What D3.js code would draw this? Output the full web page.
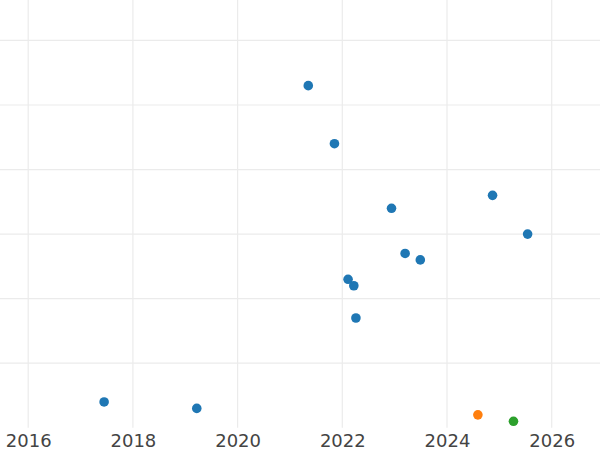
<!DOCTYPE html>
<html>
<head>
<meta charset="utf-8">
<script src="https://cdn.jsdelivr.net/npm/d3@7"></script>
<style>
html,body{margin:0;padding:0;background:#fff;}
svg{display:block;}
</style>
</head>
<body>
<svg id="chart" width="600" height="450"></svg>
<script>
// Data
const blueYears  = [2021.35, 2021.85, 2022.94, 2024.87, 2025.54, 2023.20, 2023.49, 2022.11, 2022.22, 2022.26, 2017.45, 2019.22];
const blueValues = [5.3, 4.4, 3.4, 3.6, 3.0, 2.7, 2.6, 2.3, 2.2, 1.7, 0.4, 0.3];
const orangeYears  = [2024.59];
const orangeValues = [0.2];
const greenYears  = [2025.27];
const greenValues = [0.1];
const xTicks = [2016, 2018, 2020, 2022, 2024, 2026];
const xGridYears = [2016, 2017, 2018, 2019, 2020, 2021, 2022, 2023, 2024, 2025, 2026];
const yGridValues = [1, 2, 3, 4, 5, 6];

const seriesList = [
  {years: blueYears, values: blueValues, color: "#1f77b4"},
  {years: orangeYears, values: orangeValues, color: "#ff7f0e"},
  {years: greenYears, values: greenValues, color: "#2ca02c"}
];

const W = 600, H = 450;
const plotBottom = 427.75;
const x = d3.scaleLinear().domain([2016, 2026]).range([28.2, 28.2 + 10 * 52.35]);
const y = d3.scaleLinear().domain([0, 1]).range([plotBottom, plotBottom - 64.55]);

const svg = d3.select("#chart");

// grid
const grid = svg.append("g").attr("stroke", "#ebebeb").attr("stroke-width", 1.2).attr("fill", "none");
grid.selectAll("line.h").data(yGridValues).enter().append("line")
  .attr("x1", 0).attr("x2", W)
  .attr("y1", d => y(d)).attr("y2", d => y(d));
grid.selectAll("line.v").data(xGridYears.filter(d => d % 2 === 0)).enter().append("line")
  .attr("x1", d => x(d)).attr("x2", d => x(d))
  .attr("y1", 0).attr("y2", plotBottom);

// x axis labels
const axis = d3.axisBottom(x).tickValues(xTicks).tickFormat(d3.format("d")).tickSize(0).tickPadding(0);
const ax = svg.append("g").attr("transform", `translate(0, ${plotBottom})`).call(axis);
ax.select(".domain").remove();
ax.selectAll("text")
  .attr("dy", null)
  .attr("y", 447 - plotBottom)
  .attr("fill", "#444")
  .style("font-family", "'DejaVu Sans', sans-serif")
  .style("font-size", "18px");

// points
seriesList.forEach(s => {
  svg.append("g").selectAll("circle").data(s.years.map((yr, i) => [yr, s.values[i]])).enter()
    .append("circle")
    .attr("cx", d => x(d[0]))
    .attr("cy", d => y(d[1]))
    .attr("r", 4.8)
    .attr("fill", s.color);
});
</script>
</body>
</html>
